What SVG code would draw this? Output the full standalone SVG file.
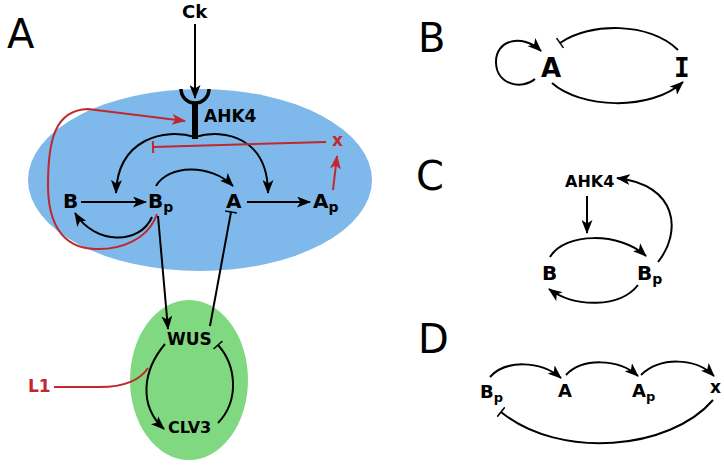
<svg xmlns="http://www.w3.org/2000/svg" width="724" height="465" viewBox="0 0 724 465">
<style>
text{font-family:"DejaVu Sans",sans-serif;font-weight:bold;fill:#000}
.lbl{font-weight:normal;font-size:40px}
.red{fill:#c1272d}
.c{fill:none;stroke:#000;stroke-width:2}
.r{fill:none;stroke:#c1272d;stroke-width:2}
</style>
<defs>
<marker id="arr" viewBox="0 0 14 11" refX="13" refY="5.5" markerWidth="14" markerHeight="11" orient="auto" markerUnits="userSpaceOnUse"><path d="M0,0 L14,5.5 L0,11 L3.5,5.5 z" fill="#000"/></marker>
<marker id="arrR" viewBox="0 0 14 11" refX="13" refY="5.5" markerWidth="14" markerHeight="11" orient="auto" markerUnits="userSpaceOnUse"><path d="M0,0 L14,5.5 L0,11 L3.5,5.5 z" fill="#c1272d"/></marker>
<marker id="bar" viewBox="0 0 4 12" refX="2" refY="6" markerWidth="4" markerHeight="12" orient="auto" markerUnits="userSpaceOnUse"><path d="M2,0 V12" stroke="#000" stroke-width="1.6"/></marker>
<marker id="barR" viewBox="0 0 4 12" refX="2" refY="6" markerWidth="4" markerHeight="12" orient="auto" markerUnits="userSpaceOnUse"><path d="M2,0 V12" stroke="#c1272d" stroke-width="2"/></marker>
</defs>
<rect width="724" height="465" fill="#fff"/>
<g id="labels">
<text class="lbl" x="7" y="48">A</text>
<text class="lbl" x="418" y="52">B</text>
<text class="lbl" x="416" y="190">C</text>
<text class="lbl" x="418" y="353">D</text>
</g>
<g id="cell-blue"><ellipse cx="200" cy="180" rx="172" ry="91" fill="#7fb9eb"/></g>
<g id="cell-green"><ellipse cx="189" cy="380" rx="59" ry="80" fill="#80d880"/></g>
<g id="receptor">
<path d="M181,89 A14,14 0 0 0 209,89" fill="none" stroke="#000" stroke-width="3.5"/>
<path d="M195,103 L195,139" stroke="#000" stroke-width="6"/>
</g>
<g id="connectors">
<path class="c" d="M195,24 L195,98" marker-end="url(#arr)"/>
<path class="c" d="M195,137 C165,128 118,138 116,193" marker-end="url(#arr)"/>
<path class="c" d="M195,137 C225,128 268,138 268,193" marker-end="url(#arr)"/>
<path class="r" d="M326,142 L153,147" stroke-width="2.5" marker-end="url(#barR)"/>
<path class="r" d="M333,190 L337,156" marker-end="url(#arrR)"/>
<path class="r" d="M157,214 C148,240 120,250 95,249 C60,248 48,220 48,185 C48,140 55,110 88,109 L185,121" stroke-width="1.5" marker-end="url(#arrR)"/>
<path class="c" d="M81,202 L146,202" marker-end="url(#arr)"/>
<path class="c" d="M247,202 L310,202" marker-end="url(#arr)"/>
<path class="c" d="M156,186 C168,165 210,163 233,186" marker-end="url(#arr)"/>
<path class="c" d="M152,217 C140,245 95,245 75,213" marker-end="url(#arr)"/>
<path class="c" d="M158,216 L168,329" marker-end="url(#arr)"/>
<path class="c" d="M210,326 L231,212" marker-end="url(#bar)"/>
<path class="c" d="M165,344 C143,370 138,405 164,429" marker-end="url(#arr)"/>
<path class="c" d="M218,423 C240,400 236,365 218,345" marker-end="url(#bar)"/>
<path class="r" d="M54,387 L100,387 C125,387 140,380 148,368" stroke-width="1.5"/>
<path class="c" d="M535,79 C522,90 497,85 496,63 C495,40 522,33 541,51" marker-end="url(#arr)"/>
<path class="c" d="M678,50 C650,22 590,22 560,43" marker-end="url(#bar)"/>
<path class="c" d="M552,83 C580,108 650,112 683,82" marker-end="url(#arr)"/>
<path class="c" d="M587,196 L587,233" marker-end="url(#arr)"/>
<path class="c" d="M550,257 C565,232 620,232 646,256" marker-end="url(#arr)"/>
<path class="c" d="M638,285 C620,308 575,308 549,289" marker-end="url(#arr)"/>
<path class="c" d="M658,262 C682,232 678,185 617,178" marker-end="url(#arr)"/>
<path class="c" d="M490,377 C505,360 540,360 561,378" marker-end="url(#arr)"/>
<path class="c" d="M566,375 C582,358 618,358 638,376" marker-end="url(#arr)"/>
<path class="c" d="M641,375 C660,357 695,357 714,376" marker-end="url(#arr)"/>
<path class="c" d="M713,400 C670,450 560,460 501,412" marker-end="url(#bar)"/>
</g>
<g id="nodeA" font-size="20">
<g id="Ck"><text x="182" y="18" font-size="18">Ck</text></g>
<g id="AHK4"><text x="204" y="122" font-size="17">AHK4</text></g>
<g id="x"><text class="red" x="332" y="146" font-size="17">x</text></g>
<g id="B"><text x="63" y="208" font-size="20">B</text></g>
<g id="Bp"><text x="148" y="208" font-size="20">B<tspan font-size="14" dy="4">p</tspan></text></g>
<g id="A"><text x="226" y="208" font-size="20">A</text></g>
<g id="Ap"><text x="313" y="208" font-size="20">A<tspan font-size="14" dy="4">p</tspan></text></g>
<g id="WUS"><text x="167" y="345" font-size="17">WUS</text></g>
<g id="CLV3"><text x="168" y="433" font-size="16">CLV3</text></g>
<g id="L1"><text class="red" x="28" y="392" font-size="17">L1</text></g>
</g>
<g id="panelB">
<g id="B-A"><text x="541" y="77" font-size="26">A</text></g>
<g id="B-I"><text x="674" y="77" font-size="26" style="font-family:'DejaVu Sans Mono',monospace">I</text></g>
</g>
<g id="panelC">
<g id="C-AHK4"><text x="565" y="187" font-size="16">AHK4</text></g>
<g id="C-B"><text x="542" y="280" font-size="20">B</text></g>
<g id="C-Bp"><text x="637" y="280" font-size="20">B<tspan font-size="14" dy="4">p</tspan></text></g>
</g>
<g id="panelD">
<g id="D-Bp"><text x="480" y="398" font-size="18">B<tspan font-size="13" dy="4">p</tspan></text></g>
<g id="D-A"><text x="558" y="397" font-size="18">A</text></g>
<g id="D-Ap"><text x="632" y="397" font-size="18">A<tspan font-size="13" dy="4">p</tspan></text></g>
<g id="D-x"><text x="710" y="393" font-size="17">x</text></g>
</g>
</svg>
